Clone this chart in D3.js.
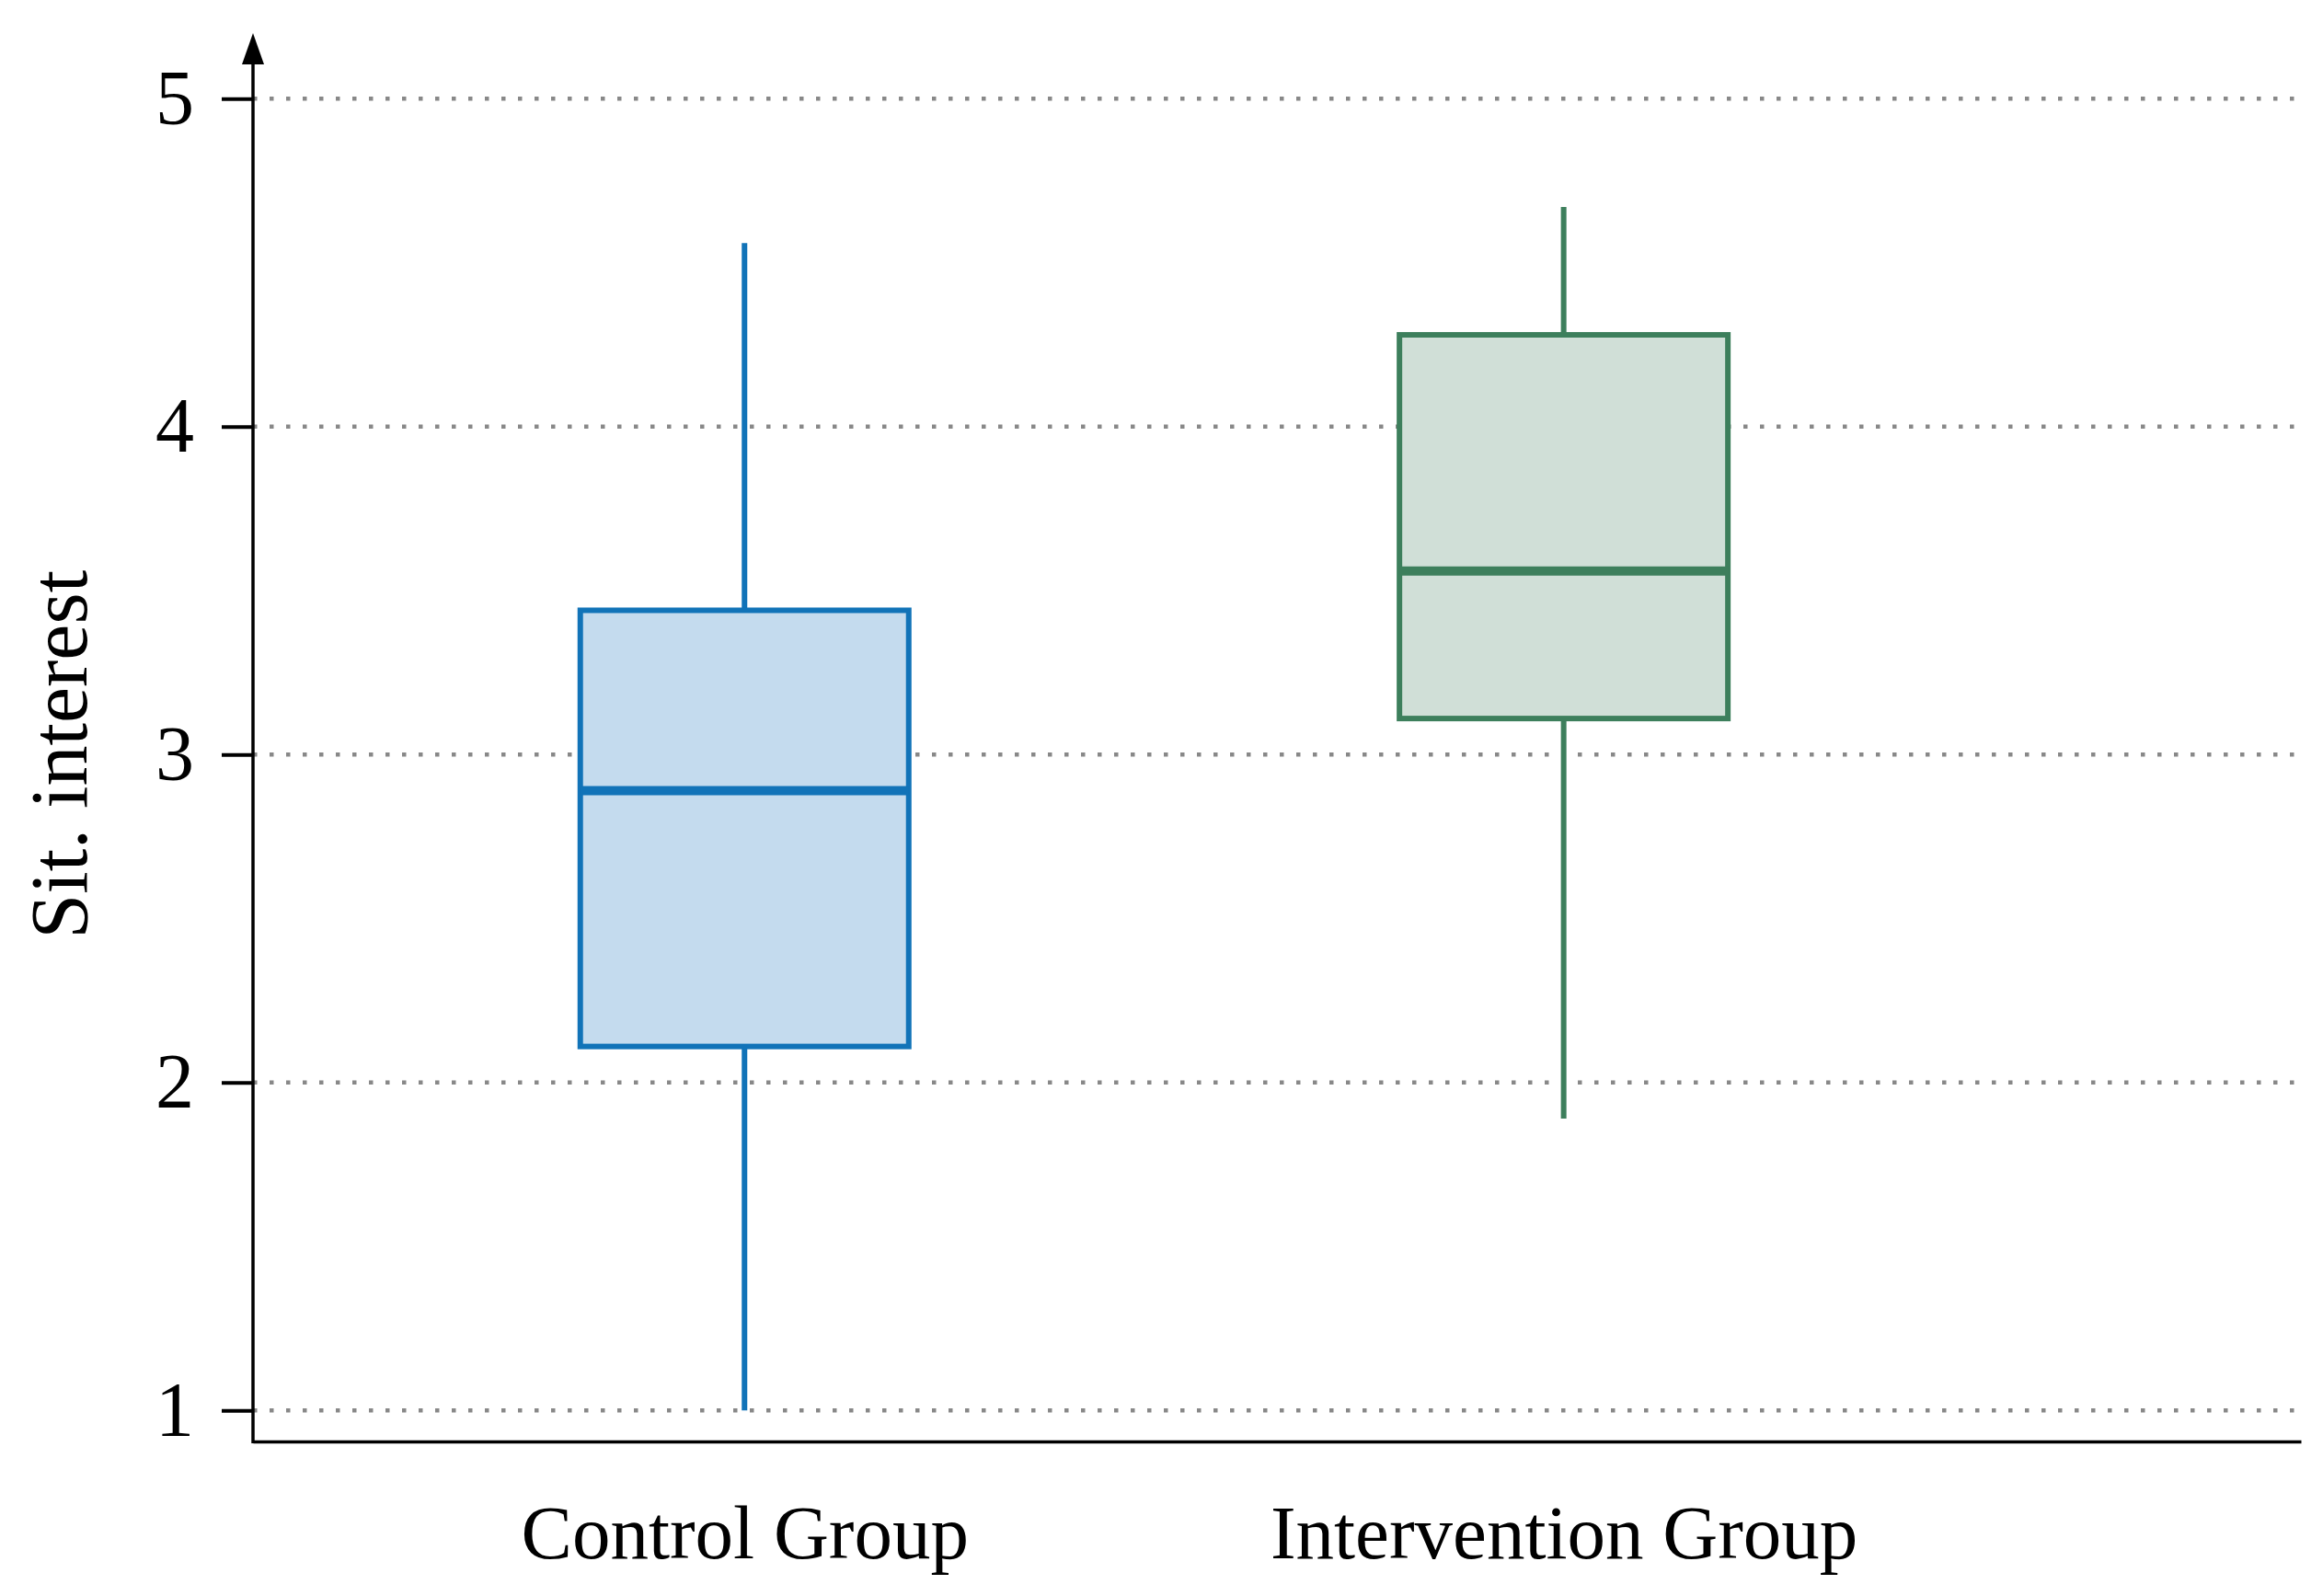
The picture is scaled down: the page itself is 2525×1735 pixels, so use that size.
<!DOCTYPE html>
<html>
<head>
<meta charset="utf-8">
<script src="https://cdnjs.cloudflare.com/ajax/libs/d3/7.8.5/d3.min.js"></script>
<style>
  body { margin: 0; background: #fff; }
  svg { display: block; }
</style>
</head>
<body>
<svg id="chart"></svg>
<script>
// *** Data ***
var groups = ["Control Group", "Intervention Group"];
var whiskerLow = [1.00, 1.89];
var q1Values = [2.11, 3.11];
var medians = [2.89, 3.56];
var q3Values = [3.44, 4.28];
var whiskerHigh = [4.56, 4.67];
var yTicks = [1, 2, 3, 4, 5];
var yLabel = "Sit. interest";

var strokeColors = ["#1173b8", "#3d7f5c"];
var fillColors = ["#c4dbee", "#d0dfd7"];

// *** Sizes *** (note: "top" is taken by window.top, so use plot* names)
var svgWidth = 2525, svgHeight = 1735;
var plotLeft = 275, plotRight = 2501, plotBottom = 1569, plotTop = 36;
var boxWidth = 357;

var svg = d3.select("#chart")
    .attr("width", svgWidth)
    .attr("height", svgHeight);

// *** Scales ***
var xScale = d3.scaleLinear()
    .domain([0.4, 2.9])
    .range([plotLeft, plotRight]);

var yScale = d3.scaleLinear()
    .domain([0.9, 5.2])
    .range([plotBottom, plotTop]);

// *** Grid lines (dotted) ***
svg.append("g")
    .selectAll("line")
    .data(yTicks)
    .enter()
    .append("line")
    .attr("x1", plotLeft)
    .attr("x2", plotRight)
    .attr("y1", function (d) { return yScale(d); })
    .attr("y2", function (d) { return yScale(d); })
    .attr("stroke", "#888888")
    .attr("stroke-width", 4.5)
    .attr("stroke-dasharray", "4.5,13.5");

// *** Boxes ***
var boxes = svg.selectAll(".box")
    .data(groups)
    .enter()
    .append("g")
    .attr("class", "box");

// whiskers
boxes.append("line")
    .attr("x1", function (d, i) { return xScale(i + 1); })
    .attr("x2", function (d, i) { return xScale(i + 1); })
    .attr("y1", function (d, i) { return yScale(whiskerLow[i]); })
    .attr("y2", function (d, i) { return yScale(q1Values[i]); })
    .attr("stroke", function (d, i) { return strokeColors[i]; })
    .attr("stroke-width", 6);

boxes.append("line")
    .attr("x1", function (d, i) { return xScale(i + 1); })
    .attr("x2", function (d, i) { return xScale(i + 1); })
    .attr("y1", function (d, i) { return yScale(q3Values[i]); })
    .attr("y2", function (d, i) { return yScale(whiskerHigh[i]); })
    .attr("stroke", function (d, i) { return strokeColors[i]; })
    .attr("stroke-width", 6);

// box body
boxes.append("rect")
    .attr("x", function (d, i) { return xScale(i + 1) - boxWidth / 2; })
    .attr("width", boxWidth)
    .attr("y", function (d, i) { return yScale(q3Values[i]); })
    .attr("height", function (d, i) { return yScale(q1Values[i]) - yScale(q3Values[i]); })
    .attr("fill", function (d, i) { return fillColors[i]; })
    .attr("stroke", function (d, i) { return strokeColors[i]; })
    .attr("stroke-width", 6);

// median
boxes.append("line")
    .attr("x1", function (d, i) { return xScale(i + 1) - boxWidth / 2; })
    .attr("x2", function (d, i) { return xScale(i + 1) + boxWidth / 2; })
    .attr("y1", function (d, i) { return yScale(medians[i]); })
    .attr("y2", function (d, i) { return yScale(medians[i]); })
    .attr("stroke", function (d, i) { return strokeColors[i]; })
    .attr("stroke-width", 10);

// *** Axes ***
var y_axis = d3.axisLeft(yScale)
    .tickValues(yTicks)
    .tickFormat(d3.format("d"))
    .tickSize(34)
    .tickPadding(30);

var yAxisG = svg.append("g")
    .attr("transform", "translate(" + plotLeft + ",0)")
    .call(y_axis);
yAxisG.select(".domain").remove();
yAxisG.selectAll(".tick line")
    .attr("stroke", "#000")
    .attr("stroke-width", 4);
yAxisG.selectAll(".tick text")
    .attr("fill", "#000")
    .style("font-family", "'Liberation Serif', 'DejaVu Serif', serif")
    .style("font-size", "84px");

// y axis line with arrow
svg.append("line")
    .attr("x1", plotLeft)
    .attr("x2", plotLeft)
    .attr("y1", yScale.range()[0])
    .attr("y2", plotTop + 30)
    .attr("stroke", "#000")
    .attr("stroke-width", 3.5);

svg.append("path")
    .attr("d", "M" + plotLeft + "," + plotTop + " L" + (plotLeft - 12) + "," + (plotTop + 34) + " L" + (plotLeft + 12) + "," + (plotTop + 34) + " Z")
    .attr("fill", "#000");

// x axis
var x_axis = d3.axisBottom(xScale)
    .tickValues(groups.map(function (d, i) { return i + 1; }))
    .tickFormat(function (d) { return groups[d - 1]; })
    .tickSize(0)
    .tickSizeOuter(0);

var xAxisG = svg.append("g")
    .attr("transform", "translate(0," + (plotBottom - 2) + ")")
    .call(x_axis);
xAxisG.select(".domain")
    .attr("stroke", "#000")
    .attr("stroke-width", 3.5);
xAxisG.selectAll(".tick text")
    .attr("fill", "#000")
    .attr("y", 127)
    .attr("dy", 0)
    .style("font-family", "'Liberation Serif', 'DejaVu Serif', serif")
    .style("font-size", "83px");

// y axis title
svg.append("text")
    .attr("transform", "translate(94," + yScale(3) + ") rotate(-90)")
    .attr("text-anchor", "middle")
    .style("font-family", "'Liberation Serif', 'DejaVu Serif', serif")
    .style("font-size", "88px")
    .text(yLabel);
</script>
</body>
</html>
